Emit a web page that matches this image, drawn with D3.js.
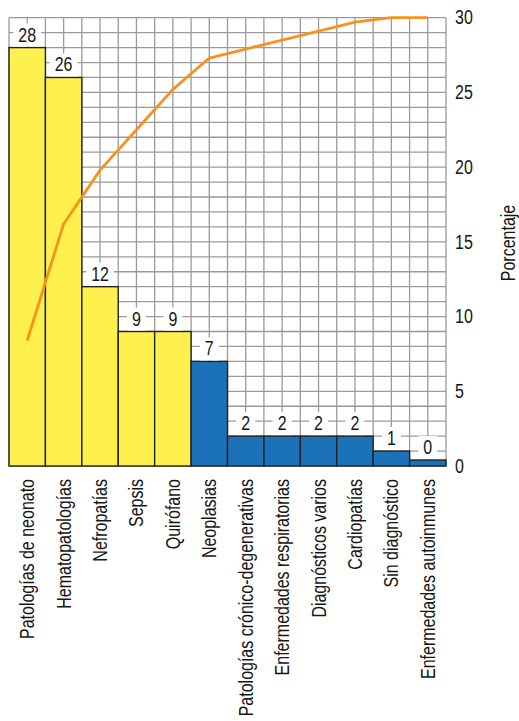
<!DOCTYPE html>
<html>
<head>
<meta charset="utf-8">
<script src="https://cdn.jsdelivr.net/npm/d3@7"></script>
<style>
  html, body { margin: 0; padding: 0; background: #fff; }
  svg { display: block; }
  text { font-family: "Liberation Sans", Arial, Helvetica, sans-serif; fill: #161616; }
</style>
</head>
<body>
<svg id="chart" width="519" height="721"></svg>
<script>
// Causes, in descending order of share (%)
const categories = [
  "Patologías de neonato",
  "Hematopatologías",
  "Nefropatías",
  "Sepsis",
  "Quirófano",
  "Neoplasias",
  "Patologías crónico-degenerativas",
  "Enfermedades respiratorias",
  "Diagnósticos varios",
  "Cardiopatías",
  "Sin diagnóstico",
  "Enfermedades autoinmunes"
];
const values = [28, 26, 12, 9, 9, 7, 2, 2, 2, 2, 1, 0];
// Cumulative share (%), plotted against a 0–100 scale
const cumulative = [28, 54, 66, 75, 84, 91, 93, 95, 97, 99, 100, 100];
// Group of each cause: "major" (first five) or "minor"
const groups = ["major", "major", "major", "major", "major",
                "minor", "minor", "minor", "minor", "minor", "minor", "minor"];
const axisTicks = [0, 5, 10, 15, 20, 25, 30];
const axisTitle = "Porcentaje";

const colors = { major: "#fff14d", minor: "#1c72b8" };

// Condensed look: the sans face squeezed along the reading direction
const fontSize = 19.5;
const squeeze = 0.82;

const svg = d3.select("#chart");
const plotLeft = 9, plotRight = 446, plotTop = 17.7, plotBottom = 466;

const x = d3.scaleBand().domain(categories).range([plotLeft, plotRight]).padding(0);
const y = d3.scaleLinear().domain([0, 30]).range([plotBottom, plotTop]);
const yCum = d3.scaleLinear().domain([0, 100]).range([plotBottom, plotTop]);
const bw = x.bandwidth();

// Grid: one line per unit, two columns per category
const grid = svg.append("g").attr("stroke", "#9a9a9a").attr("stroke-width", 1.3);
grid.selectAll("line.h").data(d3.range(0, 31)).join("line")
  .attr("class", "h")
  .attr("x1", plotLeft).attr("x2", plotRight)
  .attr("y1", d => y(d)).attr("y2", d => y(d));
const vx = [];
categories.forEach(c => { vx.push(x(c)); vx.push(x(c) + bw / 2); });
vx.push(plotRight);
grid.selectAll("line.v").data(vx).join("line")
  .attr("class", "v")
  .attr("x1", d => d).attr("x2", d => d)
  .attr("y1", plotTop).attr("y2", plotBottom);

// Bars (zero-valued bars keep a thin visible strip)
const minStrip = 6;
svg.append("g").selectAll("rect").data(values).join("rect")
  .attr("x", (d, i) => x(categories[i]))
  .attr("width", bw)
  .attr("y", d => Math.min(y(d), plotBottom - minStrip))
  .attr("height", d => Math.max(plotBottom - y(d), minStrip))
  .attr("fill", (d, i) => colors[groups[i]])
  .attr("stroke", "#222")
  .attr("stroke-width", 1.4);

// Value labels on white plates above each bar
const lbl = svg.append("g").selectAll("g").data(values).join("g")
  .attr("transform", (d, i) => {
    const yt = Math.min(y(d), plotBottom - minStrip);
    return `translate(${x(categories[i]) + bw / 2},${yt - 13})`;
  });
lbl.append("rect").attr("fill", "#fff");
const vt = lbl.append("text")
  .attr("transform", `scale(${squeeze},1)`)
  .attr("text-anchor", "middle")
  .attr("dy", "0.36em")
  .attr("font-size", fontSize)
  .text(d => d);
vt.each(function () {
  const w = this.getBBox().width * squeeze;
  d3.select(this.parentNode).select("rect")
    .attr("x", -w / 2 - 5).attr("width", w + 10)
    .attr("y", -11).attr("height", 23);
});

// Cumulative line
svg.append("path")
  .datum(cumulative)
  .attr("fill", "none")
  .attr("stroke", "#f7921e")
  .attr("stroke-width", 2.8)
  .attr("stroke-linejoin", "round")
  .attr("d", d3.line()
    .x((d, i) => x(categories[i]) + bw / 2)
    .y(d => yCum(d)));

// Right axis
const ax = svg.append("g")
  .attr("transform", `translate(${plotRight},0)`)
  .call(d3.axisRight(y).tickValues(axisTicks).tickSize(0).tickPadding(9));
ax.select(".domain").remove();
ax.attr("font-family", null);
ax.selectAll("text")
  .attr("x", 0)
  .attr("transform", `translate(9,0) scale(${squeeze},1)`)
  .attr("font-size", fontSize)
  .attr("fill", "#161616");

svg.append("text")
  .attr("transform", `translate(508,243) rotate(-90) scale(${squeeze},1)`)
  .attr("text-anchor", "middle")
  .attr("dy", "0.36em")
  .attr("font-size", fontSize)
  .text(axisTitle);

// Category labels, rotated
svg.append("g").selectAll("text").data(categories).join("text")
  .attr("transform", d => `translate(${x(d) + bw / 2},479) rotate(-90) scale(${squeeze},1)`)
  .attr("text-anchor", "end")
  .attr("dy", "0.36em")
  .attr("font-size", fontSize)
  .text(d => d);
</script>
</body>
</html>
